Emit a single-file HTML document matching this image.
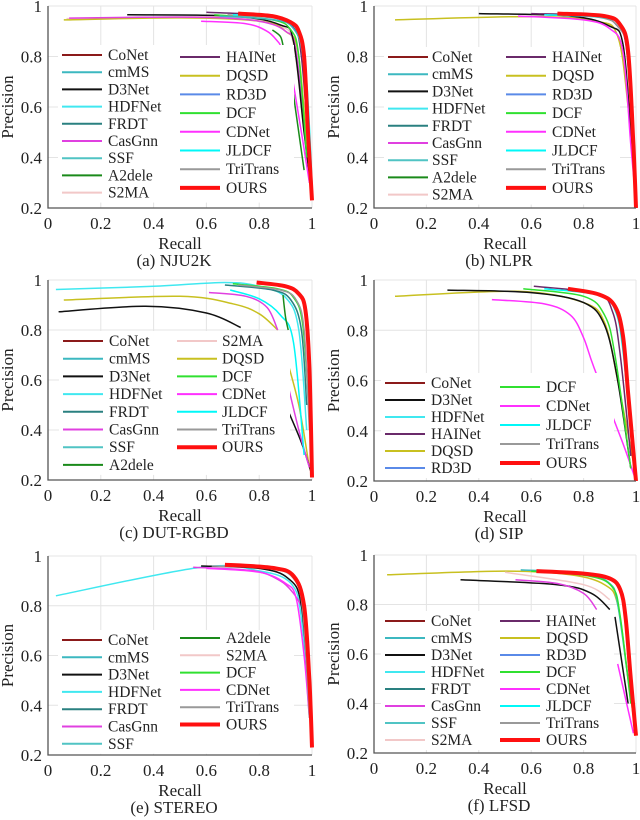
<!DOCTYPE html>
<html><head><meta charset="utf-8">
<style>
html,body{margin:0;padding:0;background:#fff;}
svg{display:block;font-family:"Liberation Serif","DejaVu Serif",serif;}
svg text{font-family:"Liberation Serif","DejaVu Serif",serif;}
</style></head>
<body>
<svg id="fig" width="640" height="820" viewBox="0 0 640 820"></svg>
<script>
// tick labels
const xTicks=[0,0.2,0.4,0.6,0.8,1];
const yTicks=[0.2,0.4,0.6,0.8,1];
const xTickLabels=["0","0.2","0.4","0.6","0.8","1"];
const yTickLabels=["0.2","0.4","0.6","0.8","1"];
const captions=["(a)  NJU2K","(b)  NLPR","(c)  DUT-RGBD","(d)  SIP","(e)  STEREO","(f)  LFSD"];
const colors={CoNet:"#8b1a1a",cmMS:"#3cb8c0",D3Net:"#111",HDFNet:"#40e8f0",FRDT:"#2a8080",CasGnn:"#e040e0",SSF:"#50c4c4",A2dele:"#1a8a1a",S2MA:"#f2c8c8",HAINet:"#6a2a6a",DQSD:"#c8c020",RD3D:"#5a8ae8",DCF:"#30e030",CDNet:"#ff30ff",JLDCF:"#00f8f8",TriTrans:"#999",OURS:"#ff1010"};

// panel a NJU2K
const aS2MA=[[0.07,0.95],[0.55,0.957],[0.75,0.95],[0.88,0.92],[0.93,0.85],[0.97,0.5]];
const aDQSD=[[0.06,0.945],[0.5,0.953],[0.8,0.94],[0.9,0.9],[0.95,0.8],[0.99,0.3]];
const aD3Net=[[0.3,0.965],[0.7,0.96],[0.88,0.925],[0.93,0.86],[0.97,0.5],[1,0.25]];
const aCasGnn=[[0.08,0.952],[0.3,0.955],[0.6,0.955],[0.8,0.94],[0.9,0.9],[0.94,0.82],[0.98,0.4]];
const aCDNet=[[0.58,0.94],[0.75,0.93],[0.83,0.9],[0.87,0.86],[0.88,0.845]];
const aCDNet2=[[0.92,0.75],[0.96,0.5],[0.99,0.3]];
const aA2dele=[[0.85,0.905],[0.88,0.88],[0.89,0.845]];
const aA2dele2=[[0.92,0.72],[0.97,0.35]];
const aHAINet=[[0.6,0.975],[0.85,0.96],[0.93,0.915],[0.96,0.8],[0.99,0.4]];
const aDCF=[[0.63,0.965],[0.85,0.945],[0.92,0.905],[0.95,0.8],[0.98,0.4]];
const aCmMS=[[0.65,0.96],[0.86,0.945],[0.93,0.91],[0.965,0.8],[0.99,0.45]];
const aJLDCF=[[0.7,0.965],[0.88,0.95],[0.95,0.9],[0.98,0.7],[1,0.3]];
const aTriTrans=[[0.68,0.965],[0.87,0.95],[0.94,0.91],[0.97,0.75],[0.995,0.35]];
const aOURS=[[0.72,0.97],[0.85,0.96],[0.92,0.935],[0.95,0.9],[0.97,0.8],[0.985,0.5],[1,0.23]];
// panel b NLPR
const bDQSD=[[0.08,0.945],[0.6,0.958],[0.85,0.94],[0.93,0.88],[0.97,0.6],[1,0.25]];
const bD3Net=[[0.4,0.97],[0.75,0.96],[0.9,0.92],[0.95,0.85],[0.98,0.5],[1,0.2]];
const bCDNet=[[0.55,0.96],[0.8,0.945],[0.9,0.91],[0.95,0.82],[0.98,0.45],[1,0.22]];
const bHAINet=[[0.6,0.97],[0.85,0.96],[0.93,0.92],[0.965,0.82],[0.99,0.4]];
const bJLDCF=[[0.65,0.965],[0.87,0.955],[0.94,0.92],[0.975,0.78],[1,0.3]];
const bTriTrans=[[0.66,0.965],[0.86,0.955],[0.935,0.915],[0.97,0.8],[0.995,0.35]];
const bOURS=[[0.7,0.97],[0.88,0.96],[0.94,0.925],[0.97,0.82],[0.99,0.45],[1,0.2]];
// panel c DUT-RGBD
const cHDFNet=[[0.03,0.962],[0.4,0.975],[0.67,0.99],[0.8,0.975],[0.9,0.93],[0.95,0.8],[0.98,0.4]];
const cDQSD=[[0.06,0.92],[0.5,0.935],[0.7,0.905],[0.8,0.865],[0.87,0.8]];
const cDQSD2=[[0.9,0.7],[0.95,0.5],[0.99,0.25]];
const cD3Net=[[0.04,0.873],[0.37,0.895],[0.6,0.868],[0.73,0.81]];
const cD3Net2=[[0.9,0.5],[0.96,0.35],[1,0.22]];
const cCasGnn=[[0.61,0.95],[0.75,0.935],[0.83,0.89],[0.87,0.8]];
const cCasGnn2=[[0.9,0.62],[0.95,0.4],[0.99,0.25]];
const cJLDCF=[[0.69,0.96],[0.8,0.925],[0.88,0.86],[0.93,0.75],[0.97,0.3]];
const cA2dele=[[0.89,0.94],[0.9,0.85],[0.91,0.8]];
const cFRDT=[[0.67,0.98],[0.85,0.96],[0.92,0.92],[0.96,0.8],[0.98,0.5]];
const cDCF=[[0.7,0.985],[0.87,0.965],[0.93,0.93],[0.965,0.82],[0.99,0.45]];
const cTriTrans=[[0.72,0.98],[0.88,0.96],[0.94,0.92],[0.97,0.8],[0.99,0.4]];
const cOURS=[[0.79,0.99],[0.9,0.975],[0.95,0.945],[0.975,0.88],[0.99,0.65],[1,0.21]];
// panel d SIP
const dDQSD=[[0.08,0.935],[0.55,0.955],[0.8,0.91],[0.88,0.83],[0.93,0.6],[1,0.22]];
const dD3Net=[[0.28,0.96],[0.6,0.95],[0.8,0.91],[0.88,0.82],[0.93,0.6],[0.98,0.25]];
const dCDNet=[[0.45,0.922],[0.65,0.905],[0.75,0.86],[0.8,0.77],[0.84,0.65],[0.95,0.35],[1,0.2]];
const dDCF=[[0.57,0.965],[0.8,0.935],[0.88,0.86],[0.92,0.7],[0.98,0.25]];
const dHAINet=[[0.61,0.975],[0.85,0.945],[0.91,0.875],[0.94,0.7],[0.98,0.3]];
const dJLDCF=[[0.65,0.965],[0.86,0.94],[0.92,0.88],[0.95,0.72],[0.99,0.28]];
const dOURS=[[0.74,0.965],[0.86,0.942],[0.92,0.895],[0.95,0.78],[0.97,0.55],[1,0.2]];
// panel e STEREO
const eHDFNet=[[0.03,0.84],[0.58,0.955],[0.8,0.94],[0.92,0.89],[0.96,0.75],[0.99,0.35]];
const eCasGnn=[[0.55,0.955],[0.78,0.94],[0.88,0.9],[0.93,0.85],[0.96,0.8]];
const eCDNet=[[0.6,0.95],[0.8,0.935],[0.9,0.89],[0.94,0.83],[0.97,0.6],[0.99,0.35]];
const eD3Net=[[0.58,0.96],[0.8,0.95],[0.91,0.91],[0.96,0.8],[0.99,0.4]];
const eTriTrans=[[0.62,0.96],[0.84,0.95],[0.93,0.91],[0.965,0.78],[0.99,0.35]];
const eOURS=[[0.67,0.965],[0.85,0.952],[0.93,0.92],[0.97,0.8],[0.99,0.5],[1,0.23]];
// panel f LFSD
const fDQSD=[[0.05,0.92],[0.5,0.935],[0.75,0.92],[0.88,0.88],[0.93,0.8],[0.97,0.5],[1,0.27]];
const fD3Net=[[0.33,0.9],[0.7,0.88],[0.83,0.845],[0.9,0.78]];
const fD3Net2=[[0.92,0.75],[0.97,0.4]];
const fCasGnn=[[0.54,0.9],[0.7,0.885],[0.8,0.845],[0.85,0.78]];
const fCDNet=[[0.93,0.56],[0.99,0.28]];
const fS2MA=[[0.5,0.93],[0.8,0.88],[0.9,0.82]];
const fCmMS=[[0.56,0.94],[0.8,0.925],[0.9,0.885],[0.93,0.8],[0.97,0.5],[1,0.3]];
const fDCF=[[0.6,0.935],[0.82,0.915],[0.91,0.87],[0.94,0.75],[0.98,0.4]];
const fOURS=[[0.62,0.935],[0.8,0.925],[0.9,0.905],[0.94,0.86],[0.96,0.75],[0.98,0.5],[1,0.27]];

const panels=[
 {x0:48,x1:312,yt:6,yb:208,series:[["S2MA",aS2MA],["DQSD",aDQSD],["CasGnn",aCasGnn],["D3Net",aD3Net],["CDNet",aCDNet],["CDNet",aCDNet2],["A2dele",aA2dele],["A2dele",aA2dele2],["HAINet",aHAINet],["DCF",aDCF],["cmMS",aCmMS],["TriTrans",aTriTrans],["JLDCF",aJLDCF],["OURS",aOURS]],
  leg:[{lx:62,tx:108,y0:55,dy:17.2,n:["CoNet","cmMS","D3Net","HDFNet","FRDT","CasGnn","SSF","A2dele","S2MA"]},{lx:180,tx:226,y0:57,dy:18.7,n:["HAINet","DQSD","RD3D","DCF","CDNet","JLDCF","TriTrans","OURS"]}]},
 {x0:374,x1:636,yt:6,yb:208,series:[["DQSD",bDQSD],["D3Net",bD3Net],["CDNet",bCDNet],["HAINet",bHAINet],["TriTrans",bTriTrans],["JLDCF",bJLDCF],["OURS",bOURS]],
  leg:[{lx:388,tx:432,y0:57,dy:17.2,n:["CoNet","cmMS","D3Net","HDFNet","FRDT","CasGnn","SSF","A2dele","S2MA"]},{lx:506,tx:552,y0:57,dy:18.7,n:["HAINet","DQSD","RD3D","DCF","CDNet","JLDCF","TriTrans","OURS"]}]},
 {x0:48,x1:312,yt:280,yb:480,series:[["HDFNet",cHDFNet],["DQSD",cDQSD],["DQSD",cDQSD2],["D3Net",cD3Net],["D3Net",cD3Net2],["CasGnn",cCasGnn],["CasGnn",cCasGnn2],["JLDCF",cJLDCF],["A2dele",cA2dele],["FRDT",cFRDT],["DCF",cDCF],["TriTrans",cTriTrans],["OURS",cOURS]],
  leg:[{lx:63,tx:109,y0:341,dy:17.7,n:["CoNet","cmMS","D3Net","HDFNet","FRDT","CasGnn","SSF","A2dele"]},{lx:177,tx:222,y0:341,dy:17.7,n:["S2MA","DQSD","DCF","CDNet","JLDCF","TriTrans","OURS"]}]},
 {x0:374,x1:636,yt:280,yb:481,series:[["DQSD",dDQSD],["D3Net",dD3Net],["CDNet",dCDNet],["DCF",dDCF],["HAINet",dHAINet],["JLDCF",dJLDCF],["OURS",dOURS]],
  leg:[{lx:385,tx:431,y0:383,dy:17,n:["CoNet","D3Net","HDFNet","HAINet","DQSD","RD3D"]},{lx:500,tx:546,y0:387,dy:19,n:["DCF","CDNet","JLDCF","TriTrans","OURS"]}]},
 {x0:48,x1:312,yt:556,yb:755,series:[["HDFNet",eHDFNet],["CasGnn",eCasGnn],["CDNet",eCDNet],["D3Net",eD3Net],["TriTrans",eTriTrans],["OURS",eOURS]],
  leg:[{lx:62,tx:108,y0:640,dy:17.3,n:["CoNet","cmMS","D3Net","HDFNet","FRDT","CasGnn","SSF"]},{lx:180,tx:226,y0:638,dy:17.3,n:["A2dele","S2MA","DCF","CDNet","TriTrans","OURS"]}]},
 {x0:374,x1:636,yt:555,yb:753,series:[["DQSD",fDQSD],["D3Net",fD3Net],["D3Net",fD3Net2],["CasGnn",fCasGnn],["CDNet",fCDNet],["S2MA",fS2MA],["cmMS",fCmMS],["DCF",fDCF],["OURS",fOURS]],
  leg:[{lx:385,tx:431,y0:621,dy:17,n:["CoNet","cmMS","D3Net","HDFNet","FRDT","CasGnn","SSF","S2MA"]},{lx:500,tx:546,y0:621,dy:17,n:["HAINet","DQSD","RD3D","DCF","CDNet","JLDCF","TriTrans","OURS"]}]}
];

const NS="http://www.w3.org/2000/svg";
const svg=document.getElementById('fig');
const FF='Liberation Serif, DejaVu Serif, serif';
function mk(tag,attrs,parent){const e=document.createElementNS(NS,tag);for(const k in attrs)e.setAttribute(k,attrs[k]);if(tag==='text')e.setAttribute('font-family',FF);(parent||svg).appendChild(e);return e;}
function smooth(P){
  if(P.length<3)return P.map((q,j)=>(j?'L':'M')+q[0].toFixed(1)+','+q[1].toFixed(1)).join('');
  let d='M'+P[0][0].toFixed(1)+','+P[0][1].toFixed(1);
  for(let i=0;i<P.length-1;i++){
    const p0=P[Math.max(0,i-1)],p1=P[i],p2=P[i+1],p3=P[Math.min(P.length-1,i+2)];
    const c1=[p1[0]+(p2[0]-p0[0])/6,p1[1]+(p2[1]-p0[1])/6];
    const c2=[p2[0]-(p3[0]-p1[0])/6,p2[1]-(p3[1]-p1[1])/6];
    d+=`C${c1[0].toFixed(1)},${c1[1].toFixed(1)} ${c2[0].toFixed(1)},${c2[1].toFixed(1)} ${p2[0].toFixed(1)},${p2[1].toFixed(1)}`;
  }
  return d;
}

panels.forEach((p,i)=>{
  const g=mk('g',{});
  
  
  const sx=v=>p.x0+v*(p.x1-p.x0);
  const sy=v=>p.yb-(v-0.2)/0.8*(p.yb-p.yt);
  xTicks.forEach(t=>{const l=mk('line',{x1:sx(t),x2:sx(t),y1:p.yt,y2:p.yb,stroke:'#e4e4e4','stroke-width':1},g);
    
    });
  yTicks.forEach(t=>{const l=mk('line',{x1:p.x0,x2:p.x1,y1:sy(t),y2:sy(t),stroke:'#e4e4e4','stroke-width':1},g);
    
    });
  p.series.forEach(([nm,pts])=>{
    const P=pts.map(q=>[sx(q[0]),sy(q[1])]);
    const path=mk('path',{d:smooth(P),fill:'none',stroke:colors[nm],'stroke-width':nm==='OURS'?4:1.5,'stroke-linejoin':'round'},g);
    
    
  });
  const ax=mk('path',{d:`M${p.x0},${p.yt}V${p.yb}H${p.x1}`,fill:'none',stroke:'#555','stroke-width':1.3},g);
  
  
  xTicks.forEach((t,j)=>{const tx=mk('text',{x:sx(t),y:p.yb+21,'font-size':17,'text-anchor':'middle',fill:'#222'},g);tx.textContent=xTickLabels[j];
    
    });
  yTicks.forEach((t,j)=>{const tx=mk('text',{x:p.x0-6,y:sy(t)+6,'font-size':17,'text-anchor':'end',fill:'#222'},g);tx.textContent=yTickLabels[j];
    
    });
  const cx=(p.x0+p.x1)/2;
  const xl=mk('text',{x:cx,y:p.yb+41,'font-size':17,'text-anchor':'middle',fill:'#222'},g);xl.textContent='Recall';
  
  
  const ym=(p.yt+p.yb)/2;
  const yl=mk('text',{x:p.x0-35,y:ym,'font-size':17,'text-anchor':'middle',fill:'#222',transform:`rotate(-90 ${p.x0-35} ${ym})`},g);yl.textContent='Precision';
  
  
  const cp=mk('text',{x:cx-6,y:p.yb+58,'font-size':17,'text-anchor':'middle',fill:'#222'},g);cp.textContent=captions[i];
  
  
  const lg=mk('g',{},g);
  
  
  const first=p.leg[0],last=p.leg[p.leg.length-1];
  const bottom=Math.max(...p.leg.map(c=>c.y0+(c.n.length-1)*c.dy));
  mk('rect',{x:first.lx-4,y:first.y0-10,width:last.tx+68-(first.lx-4),height:bottom-first.y0+20,fill:'#fff'},lg);
  p.leg.forEach(c=>{c.n.forEach((nm,k)=>{
    const y=c.y0+k*c.dy;
    const ent=mk('g',{},lg);
    
    
    mk('line',{x1:c.lx,x2:c.lx+40,y1:y,y2:y,stroke:colors[nm],'stroke-width':nm==='OURS'?4:2},ent);
    const t=mk('text',{x:c.tx,y:y+5,'font-size':15.5,fill:'#222'},ent);t.textContent=nm;
  });});
});
</script>
</body></html>
